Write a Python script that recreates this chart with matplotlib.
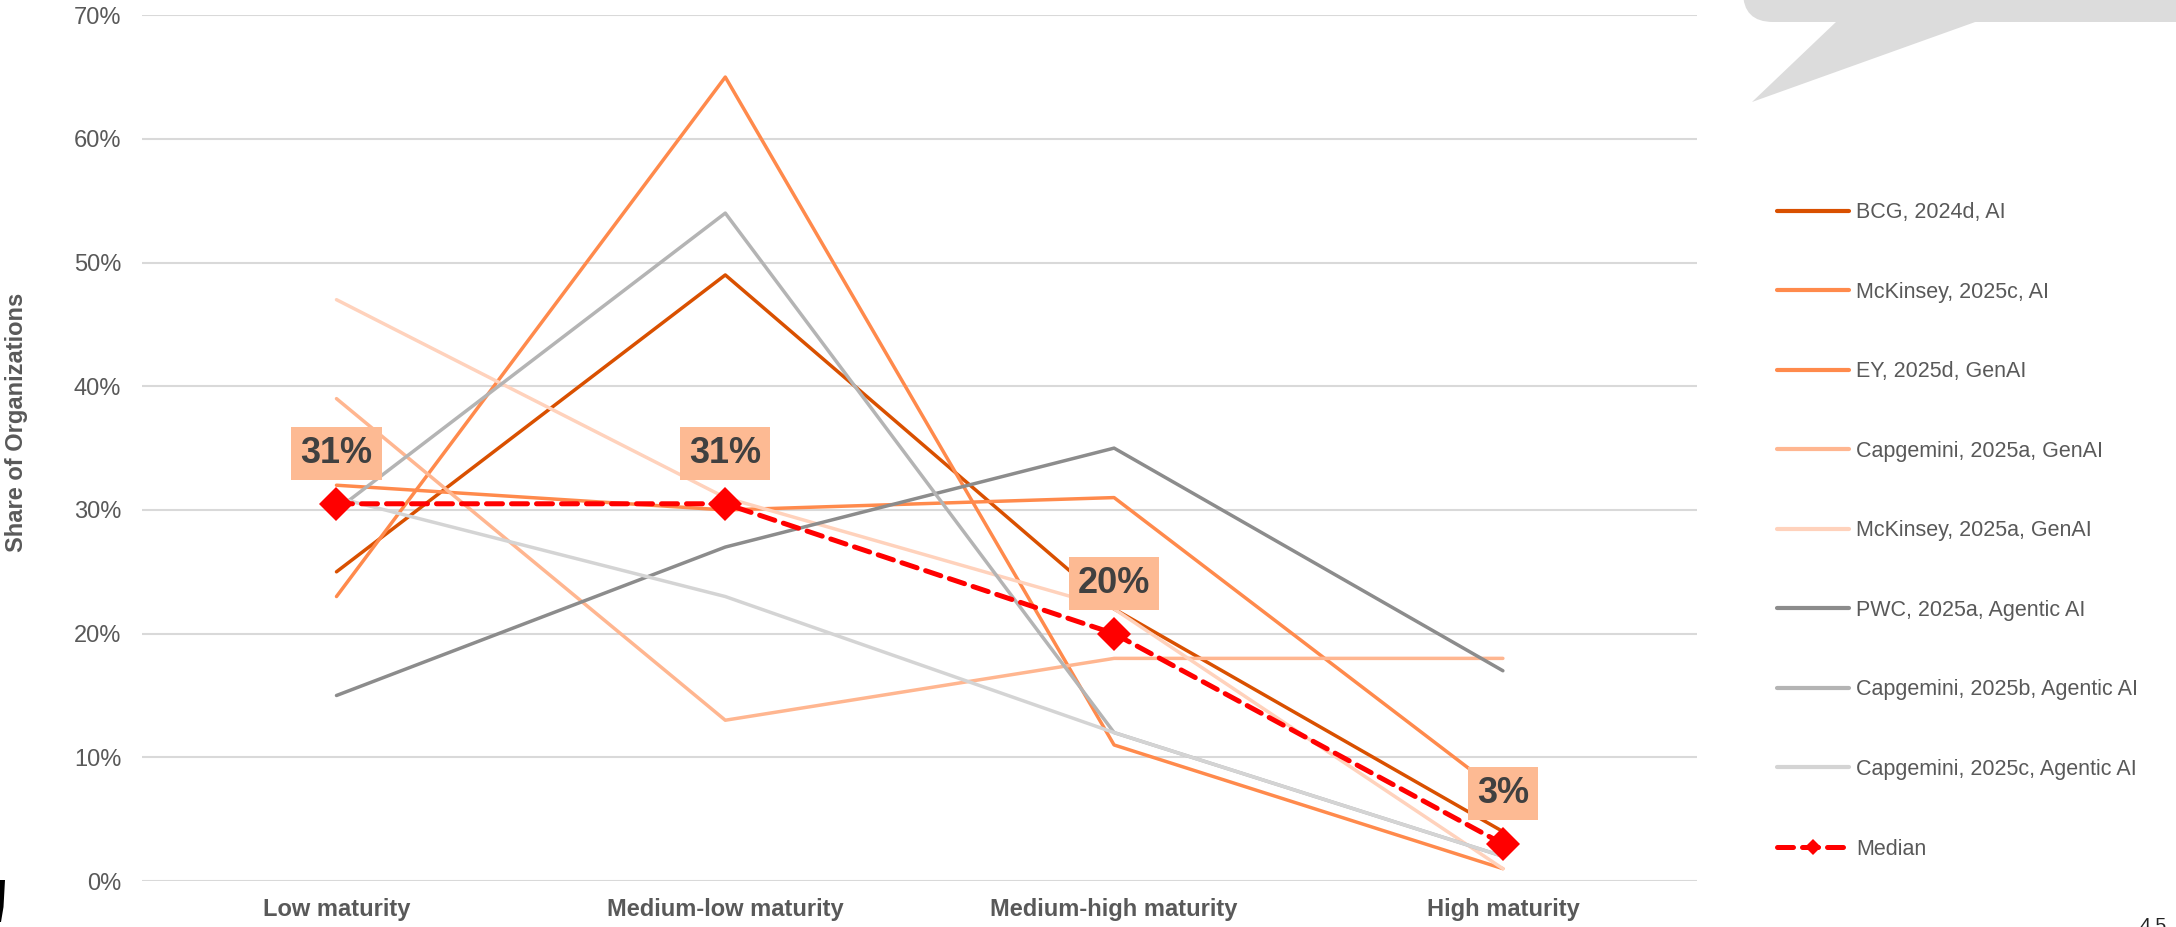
import math
import matplotlib
matplotlib.use("Agg")
import matplotlib.pyplot as plt
from matplotlib.patches import FancyBboxPatch, Polygon
from matplotlib.ticker import PercentFormatter

plt.rcParams["font.family"] = ["Liberation Sans", "DejaVu Sans"]

categories = ["Low maturity", "Medium-low maturity", "Medium-high maturity", "High maturity"]

series_names = [
    "BCG, 2024d, AI",
    "McKinsey, 2025c, AI",
    "EY, 2025d, GenAI",
    "Capgemini, 2025a, GenAI",
    "McKinsey, 2025a, GenAI",
    "PWC, 2025a, Agentic AI",
    "Capgemini, 2025b, Agentic AI",
    "Capgemini, 2025c, Agentic AI",
]
bcg_2024d = [0.25, 0.49, 0.22, 0.04]
mckinsey_2025c = [0.23, 0.65, 0.11, 0.01]
ey_2025d = [0.32, 0.30, 0.31, 0.07]
capgemini_2025a = [0.39, 0.13, 0.18, 0.18]
mckinsey_2025a = [0.47, 0.31, 0.22, 0.01]
pwc_2025a = [0.15, 0.27, 0.35, 0.17]
capgemini_2025b = [0.30, 0.54, 0.12, 0.02]
capgemini_2025c = [0.31, 0.23, 0.12, 0.02]
median = [0.305, 0.305, 0.20, 0.03]

series_values = [bcg_2024d, mckinsey_2025c, ey_2025d, capgemini_2025a,
                 mckinsey_2025a, pwc_2025a, capgemini_2025b, capgemini_2025c]
colors = ["#D95000", "#FF8A4C", "#FF8A4C", "#FFB690", "#FFD2BC",
          "#8C8C8C", "#B4B4B4", "#D4D4D4"]

fig = plt.figure(figsize=(21.76, 9.27), dpi=100)
ax = fig.add_axes([0.0653, 0.0496, 0.7147, 0.934])

x = list(range(len(categories)))
for name, vals, c in zip(series_names, series_values, colors):
    ax.plot(x, vals, color=c, lw=2.5, label=name, solid_capstyle="round", zorder=2)

ax.plot(x, median, color="#FF0000", lw=3.6, ls=(0, (3.2, 1.8)), dash_capstyle="round",
        marker="D", markersize=17, markeredgewidth=0, label="Median", zorder=4)

# percent labels, rounded half up
for xi, v in zip(x, median):
    pct = math.floor(v * 100 + 0.5 + 1e-9)
    ax.annotate(f"{pct}%", (xi, v), xytext=(0, 36), textcoords="offset points",
                ha="center", va="center", fontsize=26, fontweight="bold", color="#404040",
                bbox=dict(boxstyle="square,pad=0.25", fc="#FDBA93", ec="none"), zorder=5)

ax.set_xlim(-0.5, 3.5)
ax.set_ylim(0, 0.7)
ax.set_yticks([i / 10 for i in range(8)])
ax.yaxis.set_major_formatter(PercentFormatter(1.0, decimals=0))
ax.set_xticks(x)
ax.set_xticklabels(categories, fontweight="bold")
ax.tick_params(axis="both", length=0, labelsize=17, colors="#595959")
ax.tick_params(axis="y", pad=15)
ax.tick_params(axis="x", pad=12)
ax.grid(axis="y", color="#D9D9D9", lw=1.5)
ax.set_axisbelow(True)
for s in ax.spines.values():
    s.set_visible(False)

fig.text(0.0078, 0.544, "Share of Organizations", rotation=90, ha="center", va="center",
         fontsize=17, fontweight="bold", color="#595959")

leg = ax.legend(loc="upper left", bbox_to_anchor=(0.8165, 0.782), bbox_transform=fig.transFigure,
                frameon=False, fontsize=15.5, labelspacing=2.72, handlelength=3.35,
                handletextpad=0.33, markerscale=0.45, borderpad=0, borderaxespad=0)
for t in leg.get_texts():
    t.set_color("#595959")
for h in leg.legend_handles[:-1]:
    h.set_linewidth(3.0)

# speech-bubble shape in the top right corner
bubble = FancyBboxPatch((17.43, 9.05), 6.0, 1.0, boxstyle="round,pad=0,rounding_size=0.3",
                        transform=fig.dpi_scale_trans, fc="#DCDCDC", ec="none", clip_on=False)
tail = Polygon([(18.37, 9.06), (17.52, 8.25), (19.78, 9.06)], closed=True,
               transform=fig.dpi_scale_trans, fc="#DCDCDC", ec="none", clip_on=False)
fig.patches.extend([bubble, tail])

edge = Polygon([(0, 0.47), (0.05, 0.47), (0.035, 0.2), (0.01, 0.05), (0, 0.05)], closed=True,
               transform=fig.dpi_scale_trans, fc="black", ec="none")
fig.patches.append(edge)

fig.text(2140 / 2176, 1 - 918 / 927, "4.5", ha="left", va="top", fontsize=14, color="#222222")

fig.savefig("out.png", dpi=100)
